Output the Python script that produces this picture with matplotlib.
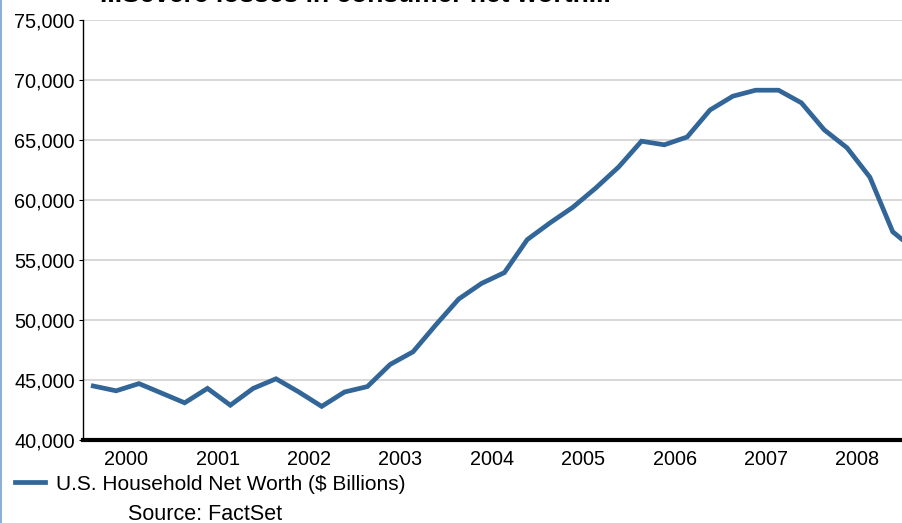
import matplotlib
matplotlib.use("Agg")
import matplotlib.pyplot as plt
from matplotlib.lines import Line2D

plt.rcParams['font.family'] = ['Liberation Sans', 'DejaVu Sans']

# quarterly U.S. household net worth, $ billions (2000 Q1 .. 2009 Q1)
quarters = [f"{y}Q{q}" for y in range(2000, 2010) for q in range(1, 5)][:37]
net_worth = [44500, 44100, 44700, 43900, 43100, 44300, 42900, 44300,
             45100, 44000, 42800, 44000, 44450, 46300, 47350, 49600,
             51750, 53050, 53950, 56700, 58100, 59400, 61000, 62750,
             64900, 64600, 65250, 67500, 68650, 69150, 69150, 68100,
             65850, 64350, 61900, 57350, 55800]
years = ['2000', '2001', '2002', '2003', '2004', '2005', '2006', '2007', '2008']
y_ticks = [40000, 45000, 50000, 55000, 60000, 65000, 70000, 75000]

W, H = 903, 523
fig = plt.figure(figsize=(W / 100, H / 100), dpi=100)
ax = fig.add_axes([83 / W, (H - 440) / H, (W - 83) / W, 420 / H])

x = list(range(len(net_worth)))
line, = ax.plot(x, net_worth, color='#326598', linewidth=3.4,
                solid_joinstyle='miter', label='U.S. Household Net Worth ($ Billions)')

ax.set_xlim(-0.45, 35.45)
ax.set_ylim(40000, 75000)
ax.set_yticks(y_ticks)
ax.set_yticklabels([f"{v:,}" for v in y_ticks])
ax.set_xticks([1.45 + 4 * i for i in range(len(years))])
ax.set_xticklabels(years)

ax.grid(axis='y', color='#d4d4d4', linewidth=1.3)
ax.set_axisbelow(True)
for s in ['top', 'right']:
    ax.spines[s].set_visible(False)
ax.spines['left'].set_linewidth(1.0)
ax.spines['bottom'].set_linewidth(3.0)
ax.spines['bottom'].set_zorder(5)
ax.tick_params(axis='x', length=0, pad=7, labelsize=14.3)
ax.tick_params(axis='y', length=3, pad=3, labelsize=14.3)

# title, mostly cut off by the top of the picture
fig.text(100 / W, (H - 2.5) / H, "...Severe losses in consumer net worth...",
         fontsize=19, fontweight='bold', va='baseline', ha='left')

fig.legend(handles=[line], loc='center left', bbox_to_anchor=(15 / W, (H - 484) / H),
           frameon=False, fontsize=15, handlelength=1.45, handletextpad=0.5,
           borderpad=0, borderaxespad=0)
fig.text(128 / W, (H - 514) / H, "Source: FactSet", fontsize=15.5, va='center', ha='left')

# thin blue frame line at the left edge
fig.add_artist(Line2D([1.5 / W, 1.5 / W], [0, 1], color='#8eb0d6', linewidth=1.5))

fig.savefig('out.png', dpi=100)
